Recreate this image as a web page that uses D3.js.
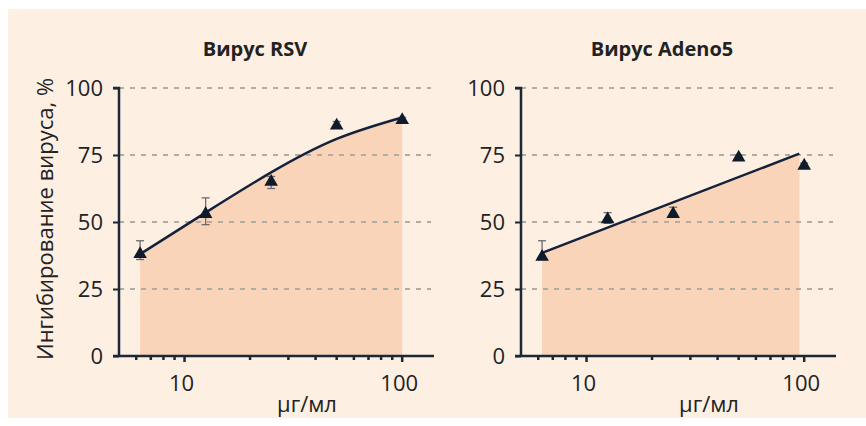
<!DOCTYPE html>
<html>
<head>
<meta charset="utf-8">
<script src="https://cdn.jsdelivr.net/npm/d3@7"></script>
<style>
  body { margin: 0; background: #fff; }
  text { font-family: "Open Sans", sans-serif; fill: #222; }
</style>
</head>
<body>
<svg id="graph"></svg>
<script>
// concentrations (μг/мл) and measured inhibition, %
var doses = [6.25, 12.5, 25, 50, 100];
var rsvMean = [38, 53, 65, 86, 88];
var rsvLow = [36, 49, 62.5, 85, 87];
var rsvHigh = [43, 59, 67, 87.5, 89];
var rsvFitX = [6.25, 12.5, 25, 50, 100];
var rsvFitY = [38, 53.5, 68.5, 81, 89];

var adenoMean = [37, 51, 53, 74, 71];
var adenoLow = [36, 49.5, 52, 73, 70];
var adenoHigh = [43, 53.5, 55.5, 75, 72];
var adenoFitX = [6.25, 95];
var adenoFitY = [38.5, 75.5];

var yTicks = [0, 25, 50, 75, 100];
var xTicks = [10, 100];
var xMinor = [6, 7, 8, 9, 10, 20, 30, 40, 50, 60, 70, 80, 90, 100];

var svg = d3.select("#graph")
    .attr("width", 866)
    .attr("height", 426);

// cream panel behind both charts
svg.append("rect")
    .attr("x", 8).attr("y", 9)
    .attr("width", 858).attr("height", 409)
    .attr("fill", "#fdefe2");

var plotW = 315, plotTop = 88, plotBottom = 356;

var y = d3.scaleLinear().domain([0, 100]).range([plotBottom, plotTop]);

function drawChart(left, title, titleX, mean, low, high, fitX, fitY, yLabel) {
  var x = d3.scaleLog().domain([5, 140]).range([0, plotW]);
  var g = svg.append("g").attr("transform", "translate(" + left + ",0)");

  var fit = fitX.map(function(d, i) { return {x: d, y: fitY[i]}; });

  // shaded area under the fitted curve
  g.append("path")
      .datum(fit)
      .attr("fill", "#f9d4b9")
      .attr("d", d3.area()
          .x(function(d) { return x(d.x); })
          .y0(y(0))
          .y1(function(d) { return y(d.y); })
          .curve(d3.curveNatural));

  // dashed gridlines
  g.selectAll(".grid")
    .data(yTicks.slice(1))
    .enter().append("line")
      .attr("x1", 0).attr("x2", plotW - 3)
      .attr("y1", function(d) { return y(d); })
      .attr("y2", function(d) { return y(d); })
      .attr("stroke", "#b3aca5")
      .attr("stroke-width", 2)
      .attr("stroke-dasharray", "5,6");

  // y axis
  var ya = g.append("g")
      .call(d3.axisLeft(y).tickValues(yTicks).tickSize(6).tickPadding(10));
  ya.select(".domain").attr("stroke", "#1b2838").attr("stroke-width", 2.5)
      .attr("d", "M-6," + y(100) + "H0V" + y(0));
  ya.selectAll(".tick line").attr("stroke", "#1b2838").attr("stroke-width", 2);
  ya.selectAll(".tick text").attr("font-size", 22).attr("fill", "#222")
      .attr("font-family", "Open Sans");

  // x axis: minor log ticks, labels at decades
  var xa = g.append("g")
      .attr("transform", "translate(0," + y(0) + ")");
  xa.append("line")
      .attr("x1", -6).attr("x2", plotW)
      .attr("stroke", "#1b2838").attr("stroke-width", 2.5);
  xa.selectAll(".minor")
    .data(xMinor)
    .enter().append("line")
      .attr("x1", function(d) { return x(d); })
      .attr("x2", function(d) { return x(d); })
      .attr("y1", 0)
      .attr("y2", function(d) { return xTicks.indexOf(d) >= 0 ? 6 : 4; })
      .attr("stroke", "#1b2838").attr("stroke-width", 2.5);
  xa.selectAll(".lbl")
    .data(xTicks)
    .enter().append("text")
      .attr("x", function(d) { return x(d) - 3; })
      .attr("y", 35)
      .attr("text-anchor", "middle")
      .attr("font-size", 22)
      .text(function(d) { return d; });

  xa.append("text")
      .attr("x", 188).attr("y", 56)
      .attr("text-anchor", "middle")
      .attr("font-size", 22)
      .text("μг/мл");

  // title
  g.append("text")
      .attr("x", titleX).attr("y", 56)
      .attr("text-anchor", "middle")
      .attr("font-size", 20)
      .attr("font-weight", "bold")
      .text(title);

  if (yLabel) {
    g.append("text")
        .attr("transform", "translate(-66," + 219 + ") rotate(-90)")
        .attr("text-anchor", "middle")
        .attr("font-size", 22)
        .text(yLabel);
  }

  // fitted line
  g.append("path")
      .datum(fit)
      .attr("fill", "none")
      .attr("stroke", "#14213a")
      .attr("stroke-width", 2.5)
      .attr("d", d3.line()
          .x(function(d) { return x(d.x); })
          .y(function(d) { return y(d.y); })
          .curve(d3.curveNatural));

  // error bars
  var eb = g.selectAll(".err")
    .data(doses)
    .enter().append("g")
      .attr("stroke", "#6a6a70")
      .attr("stroke-width", 1.3);
  eb.append("line")
      .attr("x1", function(d) { return x(d); })
      .attr("x2", function(d) { return x(d); })
      .attr("y1", function(d, i) { return y(low[i]); })
      .attr("y2", function(d, i) { return y(high[i]); });
  eb.append("line")
      .attr("x1", function(d) { return x(d) - 4; })
      .attr("x2", function(d) { return x(d) + 4; })
      .attr("y1", function(d, i) { return y(high[i]); })
      .attr("y2", function(d, i) { return y(high[i]); });
  eb.append("line")
      .attr("x1", function(d) { return x(d) - 4; })
      .attr("x2", function(d) { return x(d) + 4; })
      .attr("y1", function(d, i) { return y(low[i]); })
      .attr("y2", function(d, i) { return y(low[i]); });

  // triangle markers
  g.selectAll(".pt")
    .data(doses)
    .enter().append("path")
      .attr("transform", function(d, i) {
        return "translate(" + x(d) + "," + y(mean[i]) + ")";
      })
      .attr("d", d3.symbol().type(d3.symbolTriangle).size(80))
      .attr("fill", "#0f1a2a");
}

drawChart(119, "Вирус RSV", 136, rsvMean, rsvLow, rsvHigh, rsvFitX, rsvFitY, "Ингибирование вируса, %");
drawChart(521, "Вирус Adeno5", 141, adenoMean, adenoLow, adenoHigh, adenoFitX, adenoFitY, null);
</script>
</body>
</html>
